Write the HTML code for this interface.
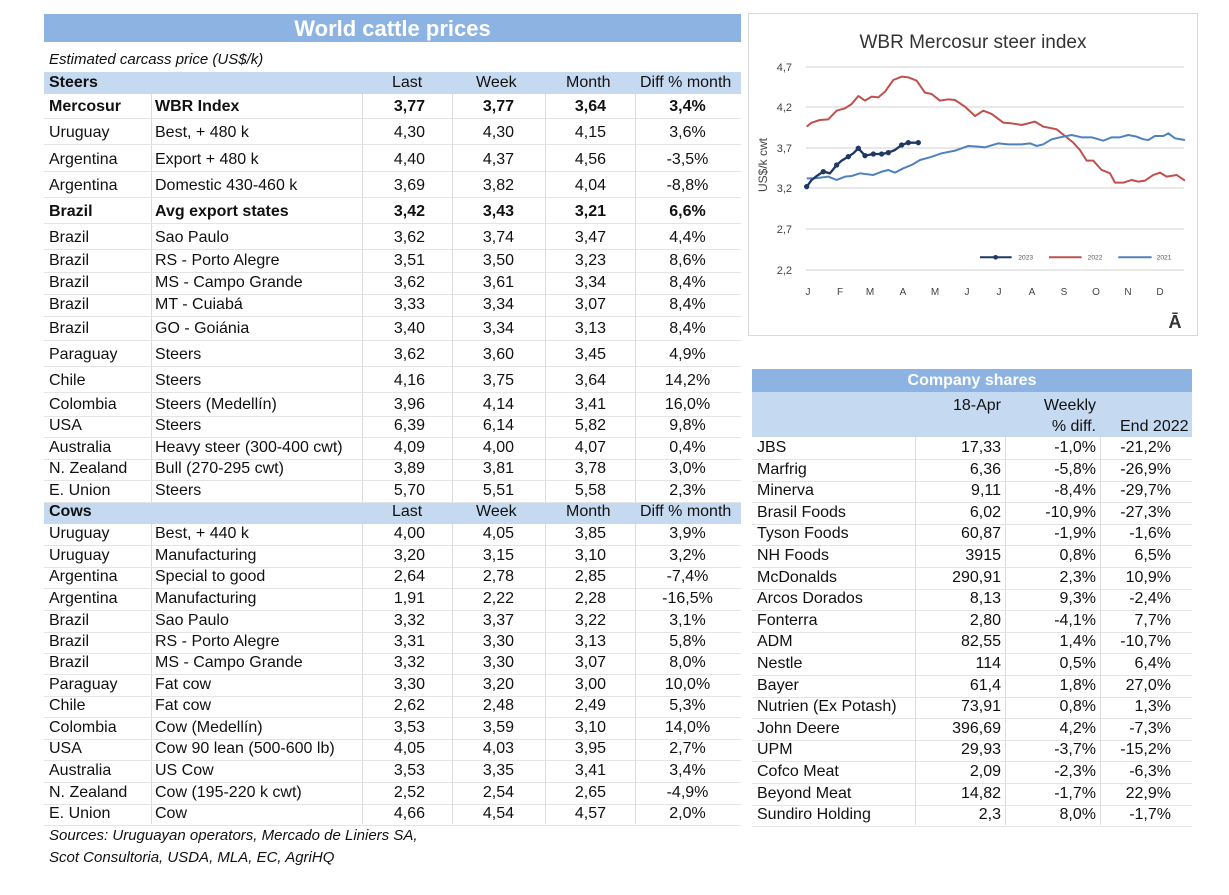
<!DOCTYPE html>
<html><head><meta charset="utf-8"><style>
body{margin:0;width:1229px;height:895px;background:#fff;position:relative;font-family:"Liberation Sans",Arial,sans-serif;overflow:hidden;color:#111}
.a{position:absolute;white-space:nowrap;font-size:16px;line-height:18px}
.b{font-weight:bold}
.r{text-align:right}
.c{text-align:center}
.band{position:absolute}
.vl{position:absolute;width:1px;background:#dcdcdc}
.hl{position:absolute;height:1px;background:#e4e4e4}
</style></head><body>
<div class="band" style="left:44px;top:14px;width:697px;height:28px;background:#8db3e2"></div>
<div class="a b c" style="left:44px;top:16px;width:697px;font-size:22px;line-height:26px;color:#fff">World cattle prices</div>
<div class="a" style="left:49px;top:51px;font-style:italic;font-size:15px">Estimated carcass price (US$/k)</div>
<div class="band" style="left:44px;top:72px;width:697px;height:22px;background:#c5d9f1"></div>
<div class="band" style="left:44px;top:502px;width:697px;height:22px;background:#c5d9f1"></div>
<div class="vl" style="left:151px;top:94px;height:408px"></div><div class="vl" style="left:151px;top:524px;height:300px"></div>
<div class="vl" style="left:362px;top:94px;height:408px"></div><div class="vl" style="left:362px;top:524px;height:300px"></div>
<div class="vl" style="left:452px;top:94px;height:408px"></div><div class="vl" style="left:452px;top:524px;height:300px"></div>
<div class="vl" style="left:545px;top:94px;height:408px"></div><div class="vl" style="left:545px;top:524px;height:300px"></div>
<div class="vl" style="left:635px;top:94px;height:408px"></div><div class="vl" style="left:635px;top:524px;height:300px"></div>
<div id="L"></div>

<div class="band" style="left:752px;top:369px;width:440px;height:23px;background:#8db3e2"></div>
<div class="a b c" style="left:752px;top:372px;width:440px;font-size:16px;color:#fff">Company shares</div>
<div class="band" style="left:752px;top:392px;width:440px;height:45px;background:#c5d9f1"></div>
<div class="a r" style="left:900px;top:397px;width:101px">18-Apr</div>
<div class="a r" style="left:1000px;top:397px;width:96px">Weekly</div>
<div class="a r" style="left:1000px;top:418px;width:96px">% diff.</div>
<div class="a" style="left:1120px;top:418px">End 2022</div>
<div class="vl" style="left:915px;top:437px;height:388px"></div>
<div class="vl" style="left:1005px;top:437px;height:388px"></div>
<div class="vl" style="left:1100px;top:437px;height:388px"></div>
<div id="R"></div>

<div style="position:absolute;left:748px;top:13px;width:450px;height:323px;border:1px solid #d9d9d9;box-sizing:border-box"></div>
<svg style="position:absolute;left:0;top:0" width="1229" height="895">
<g font-family="Liberation Sans,Arial,sans-serif">
<text x="973" y="48" font-size="19" text-anchor="middle" fill="#333">WBR Mercosur steer index</text>
<g stroke="#d9d9d9" stroke-width="1.3">
<line x1="806" x2="1184" y1="67" y2="67"/><line x1="806" x2="1184" y1="107" y2="107"/><line x1="806" x2="1184" y1="148" y2="148"/><line x1="806" x2="1184" y1="188" y2="188"/><line x1="806" x2="1184" y1="229" y2="229"/><line x1="806" x2="1184" y1="270" y2="270"/></g>
<g font-size="11" fill="#444" text-anchor="end">
<text x="792" y="71">4,7</text><text x="792" y="111">4,2</text><text x="792" y="152">3,7</text><text x="792" y="192">3,2</text><text x="792" y="233">2,7</text><text x="792" y="274">2,2</text></g>
<text transform="translate(767,165) rotate(-90)" font-size="12" fill="#444" text-anchor="middle">US$/k cwt</text>
<g font-size="10" fill="#444" text-anchor="middle">
<text x="808" y="295">J</text><text x="840" y="295">F</text><text x="870" y="295">M</text><text x="903" y="295">A</text><text x="935" y="295">M</text><text x="967" y="295">J</text><text x="999" y="295">J</text><text x="1032" y="295">A</text><text x="1064" y="295">S</text><text x="1096" y="295">O</text><text x="1128" y="295">N</text><text x="1160" y="295">D</text></g>
<text x="1175" y="328" font-size="18" font-weight="bold" fill="#333" text-anchor="middle">Ā</text>
<g transform="translate(745,10) scale(0.3333)" fill="none" stroke-width="6" stroke-linejoin="round">
<polyline stroke="#c0504d" points="185,350 200,338 225,330 250,328 275,302 300,295 320,282 340,258 360,272 380,260 400,262 420,245 445,210 470,200 490,202 515,212 540,248 560,252 585,272 610,268 630,270 660,290 690,318 715,302 740,312 775,338 800,340 830,345 870,335 895,350 935,358 960,378 985,398 1005,420 1025,452 1045,452 1070,480 1095,490 1110,518 1135,518 1160,510 1180,515 1200,512 1225,495 1245,488 1265,500 1295,495 1320,512"/>
<polyline stroke="#4f81bd" points="185,505 210,505 250,500 275,510 300,500 320,498 345,490 385,495 410,485 430,480 450,488 475,475 500,465 525,450 555,442 590,430 630,422 670,408 700,410 720,412 760,400 790,403 830,403 855,400 875,408 895,403 920,388 945,382 980,375 1010,382 1040,382 1075,392 1100,382 1125,382 1150,375 1175,380 1195,388 1210,390 1230,378 1255,378 1270,370 1290,385 1320,390"/>
<polyline stroke="#1f3864" stroke-width="7" points="185,530 200,510 215,498 235,485 255,490 275,465 290,452 310,440 325,430 340,415 360,437 385,432 410,432 430,428 450,420 470,405 490,398 520,398"/>
<g fill="#1f3864" stroke="none"><circle cx="185" cy="530" r="8"/><circle cx="235" cy="485" r="8"/><circle cx="275" cy="465" r="8"/><circle cx="310" cy="440" r="8"/><circle cx="340" cy="415" r="8"/><circle cx="360" cy="437" r="8"/><circle cx="385" cy="432" r="8"/><circle cx="410" cy="432" r="8"/><circle cx="430" cy="428" r="8"/><circle cx="470" cy="405" r="8"/><circle cx="490" cy="398" r="8"/><circle cx="520" cy="398" r="8"/></g>
<line x1="705" x2="800" y1="742" y2="742" stroke="#1f3864"/>
<line x1="912" x2="1010" y1="742" y2="742" stroke="#c0504d"/>
<line x1="1120" x2="1220" y1="742" y2="742" stroke="#4f81bd"/>
<circle cx="752" cy="742" r="7" fill="#1f3864" stroke="none"/>
<g fill="#555" stroke="none" font-size="20"><text x="820" y="749">2023</text><text x="1028" y="749">2022</text><text x="1235" y="749">2021</text></g>
</g></g></svg>
<script>
var L=[
["h","Steers","","Last","Week","Month","Diff % month",83],
["b","Mercosur","WBR Index","3,77","3,77","3,64","3,4%",107],
["","Uruguay","Best, + 480 k","4,30","4,30","4,15","3,6%",133],
["","Argentina","Export + 480 k","4,40","4,37","4,56","-3,5%",160],
["","Argentina","Domestic 430-460 k","3,69","3,82","4,04","-8,8%",186],
["b","Brazil","Avg export states","3,42","3,43","3,21","6,6%",212],
["","Brazil","Sao Paulo","3,62","3,74","3,47","4,4%",238],
["","Brazil","RS - Porto Alegre","3,51","3,50","3,23","8,6%",261],
["","Brazil","MS - Campo Grande","3,62","3,61","3,34","8,4%",283],
["","Brazil","MT - Cuiabá","3,33","3,34","3,07","8,4%",305],
["","Brazil","GO - Goiánia","3,40","3,34","3,13","8,4%",329],
["","Paraguay","Steers","3,62","3,60","3,45","4,9%",355],
["","Chile","Steers","4,16","3,75","3,64","14,2%",381],
["","Colombia","Steers (Medellín)","3,96","4,14","3,41","16,0%",405],
["","USA","Steers","6,39","6,14","5,82","9,8%",426],
["","Australia","Heavy steer (300-400 cwt)","4,09","4,00","4,07","0,4%",448],
["","N. Zealand","Bull (270-295 cwt)","3,89","3,81","3,78","3,0%",469],
["","E. Union","Steers","5,70","5,51","5,58","2,3%",491],
["h","Cows","","Last","Week","Month","Diff % month",512],
["","Uruguay","Best, + 440 k","4,00","4,05","3,85","3,9%",534],
["","Uruguay","Manufacturing","3,20","3,15","3,10","3,2%",556],
["","Argentina","Special to good","2,64","2,78","2,85","-7,4%",577],
["","Argentina","Manufacturing","1,91","2,22","2,28","-16,5%",599],
["","Brazil","Sao Paulo","3,32","3,37","3,22","3,1%",621],
["","Brazil","RS - Porto Alegre","3,31","3,30","3,13","5,8%",642],
["","Brazil","MS - Campo Grande","3,32","3,30","3,07","8,0%",663],
["","Paraguay","Fat cow","3,30","3,20","3,00","10,0%",685],
["","Chile","Fat cow","2,62","2,48","2,49","5,3%",706],
["","Colombia","Cow (Medellín)","3,53","3,59","3,10","14,0%",728],
["","USA","Cow 90 lean (500-600 lb)","4,05","4,03","3,95","2,7%",749],
["","Australia","US Cow","3,53","3,35","3,41","3,4%",771],
["","N. Zealand","Cow (195-220 k cwt)","2,52","2,54","2,65","-4,9%",793],
["","E. Union","Cow","4,66","4,54","4,57","2,0%",814]];
var h="";
L.forEach(function(r){var y=r[7]-9,b=r[0]=="b"?" b":"",hb=r[0]=="h";
h+='<div class="a'+(hb||b?" b":"")+'" style="left:49px;top:'+y+'px">'+r[1]+'</div>';
h+='<div class="a'+b+'" style="left:155px;top:'+y+'px">'+r[2]+'</div>';
if(hb){h+='<div class="a" style="left:392px;top:'+y+'px">Last</div><div class="a" style="left:476px;top:'+y+'px">Week</div><div class="a" style="left:566px;top:'+y+'px">Month</div><div class="a" style="left:640px;top:'+y+'px">Diff % month</div>';}
else{h+='<div class="a r'+b+'" style="left:360px;width:65px;top:'+y+'px">'+r[3]+'</div><div class="a r'+b+'" style="left:450px;width:64px;top:'+y+'px">'+r[4]+'</div><div class="a r'+b+'" style="left:540px;width:66px;top:'+y+'px">'+r[5]+'</div><div class="a c'+b+'" style="left:640px;width:95px;top:'+y+'px">'+r[6]+'</div>';
h+='<div class="hl" style="left:44px;width:697px;top:'+(r[7]+11)+'px"></div>';}
});
document.getElementById("L").innerHTML=h+'<div class="a" style="left:49px;top:827px;font-style:italic;font-size:15px">Sources: Uruguayan operators, Mercado de Liniers SA,</div><div class="a" style="left:49px;top:849px;font-style:italic;font-size:15px">Scot Consultoria, USDA, MLA, EC, AgriHQ</div>';
var R=[["JBS","17,33","-1,0%","-21,2%"],["Marfrig","6,36","-5,8%","-26,9%"],["Minerva","9,11","-8,4%","-29,7%"],["Brasil Foods","6,02","-10,9%","-27,3%"],["Tyson Foods","60,87","-1,9%","-1,6%"],["NH Foods","3915","0,8%","6,5%"],["McDonalds","290,91","2,3%","10,9%"],["Arcos Dorados","8,13","9,3%","-2,4%"],["Fonterra","2,80","-4,1%","7,7%"],["ADM","82,55","1,4%","-10,7%"],["Nestle","114","0,5%","6,4%"],["Bayer","61,4","1,8%","27,0%"],["Nutrien (Ex Potash)","73,91","0,8%","1,3%"],["John Deere","396,69","4,2%","-7,3%"],["UPM","29,93","-3,7%","-15,2%"],["Cofco Meat","2,09","-2,3%","-6,3%"],["Beyond Meat","14,82","-1,7%","22,9%"],["Sundiro Holding","2,3","8,0%","-1,7%"]];
h="";R.forEach(function(r,i){var c=448+i*21.6,y=c-9;
h+='<div class="a" style="left:757px;top:'+y+'px">'+r[0]+'</div><div class="a r" style="left:920px;width:81px;top:'+y+'px">'+r[1]+'</div><div class="a r" style="left:1010px;width:86px;top:'+y+'px">'+r[2]+'</div><div class="a r" style="left:1105px;width:66px;top:'+y+'px">'+r[3]+'</div><div class="hl" style="left:752px;width:440px;top:'+(c+11)+'px"></div>';});
document.getElementById("R").innerHTML=h;
</script>
</body></html>
